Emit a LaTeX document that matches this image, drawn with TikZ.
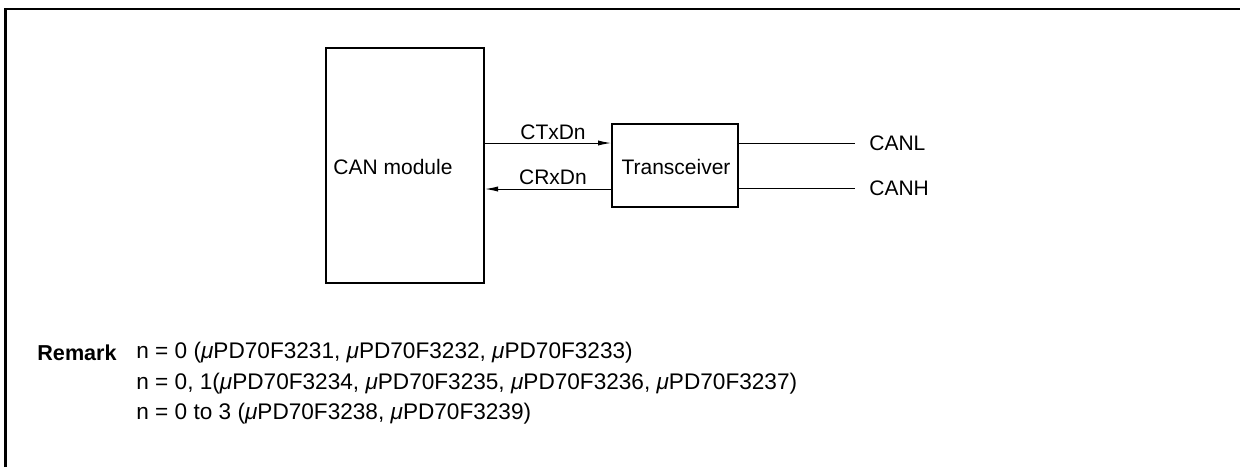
\documentclass[tikz,border=0pt]{standalone}
\usepackage{fontspec}
\setmainfont{Liberation Sans}
\usetikzlibrary{arrows.meta}
\newcommand{\mup}{\textit{μ}}
\begin{document}
\begin{tikzpicture}[x=0.5pt,y=-0.5pt,
  font=\fontsize{10.5}{12.6}\selectfont,
  blk/.style={draw,line width=1pt,inner sep=0pt,minimum width=#1},
  sig/.style={line width=0.5pt},
  arr/.style={sig,-{Latex[length=6.5pt,width=2.6pt]}},
  txt/.style={inner sep=0pt},
  remtxt/.style={txt,anchor=west,font=\fontsize{11.3}{13.5}\selectfont},
  remhead/.style={txt,anchor=west,font=\fontsize{10.8}{13}\selectfont\bfseries},
  frame/.style={line width=1.2pt}]
\useasboundingbox (0,0) rectangle (1240,467);
\draw[frame] (5.5,467) -- (5.5,9) -- (1240,9);
% blocks
\node[blk=79pt,minimum height=117.5pt] (can) at (405,165.5) {};
\node[txt] (cantext) at (393,167) {CAN module};
\node[blk=63pt,minimum height=41.5pt] (tr) at (675,165.5) {};
\node[txt] (trtext) at (676,167) {Transceiver};
% signals
\coordinate (txin) at ([yshift=11.25pt]tr.west);
\coordinate (rxout) at ([yshift=-11.75pt]tr.west);
\coordinate (lout) at ([yshift=11.25pt]tr.east);
\coordinate (hout) at ([yshift=-11.5pt]tr.east);
\draw[arr] (can.east |- txin) -- (txin);
\draw[arr] (rxout) -- (can.east |- rxout);
\node[txt] (ctx) at (553,132) {CTxDn};
\node[txt] (crx) at (553,177) {CRxDn};
\node[txt,anchor=west] (canl) at (869,143) {CANL};
\node[txt,anchor=west] (canh) at (869,188) {CANH};
\coordinate (lend) at (855,143);
\coordinate (hend) at (855,188);
\draw[sig] (lout) -- (lend |- lout);
\draw[sig] (hout) -- (hend |- hout);
% remark
\node[remhead] (rem) at (37,353) {Remark};
\node[remtxt] (r1) at (136,353) {n = 0 (\mup PD70F3231, \mup PD70F3232, \mup PD70F3233)};
\node[remtxt] (r2) at (136,384) {n = 0, 1(\mup PD70F3234, \mup PD70F3235, \mup PD70F3236, \mup PD70F3237)};
\node[remtxt] (r3) at (136,414) {n = 0 to 3 (\mup PD70F3238, \mup PD70F3239)};
\end{tikzpicture}
\end{document}
